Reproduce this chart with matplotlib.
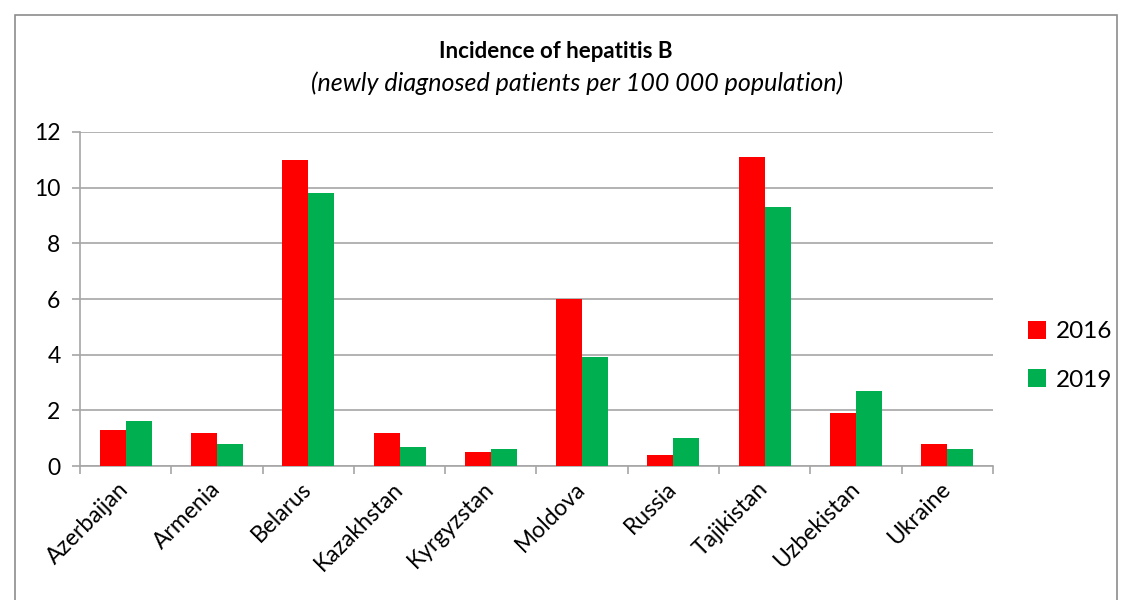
import numpy as np
import matplotlib
matplotlib.use("Agg")
from matplotlib import pyplot as plt
from matplotlib.patches import Rectangle

countries = ["Azerbaijan", "Armenia", "Belarus", "Kazakhstan", "Kyrgyzstan",
             "Moldova", "Russia", "Tajikistan", "Uzbekistan", "Ukraine"]
cases_2016 = [1.3, 1.2, 11.0, 1.2, 0.5, 6.0, 0.4, 11.1, 1.9, 0.8]
cases_2019 = [1.6, 0.8, 9.8, 0.7, 0.6, 3.9, 1.0, 9.3, 2.7, 0.6]
years = ["2016", "2019"]

plt.rcParams['font.family'] = ['Lato', 'DejaVu Sans']

fig = plt.figure(figsize=(11.24, 6.0), dpi=100)
ax = fig.add_axes([0.0712, 0.2233, 0.8122, 0.5567])

x = np.arange(len(countries))
w = 0.285
ax.bar(x - w / 2, cases_2016, w, color="#FF0000", label=years[0], zorder=3)
ax.bar(x + w / 2, cases_2019, w, color="#00B050", label=years[1], zorder=3)

ax.set_xlim(-0.5, len(countries) - 0.5)
ax.set_ylim(0, 12)
ax.set_yticks(range(0, 13, 2))
ax.yaxis.grid(True, color="#a6a6a6", linewidth=1.2, zorder=0)

# category ticks sit between the groups, labels on the group centres
ax.set_xticks(np.arange(-0.5, len(countries), 1.0))
ax.set_xticklabels([])
ax.set_xticks(x, minor=True)
ax.set_xticklabels(countries, minor=True, rotation=45, ha="right", va="center",
                   rotation_mode="anchor", fontsize=16.5)
ax.tick_params(axis="x", which="minor", length=0, pad=14)
ax.tick_params(axis="x", which="major", length=6, width=1.2, color="#a6a6a6")
ax.tick_params(axis="y", length=6, width=1.2, color="#a6a6a6", labelsize=16.5, pad=8)

for side in ["top", "right"]:
    ax.spines[side].set_visible(False)
for side in ["left", "bottom"]:
    ax.spines[side].set_color("#a6a6a6")
    ax.spines[side].set_linewidth(1.2)

fig.text(0.494, 0.915, "Incidence of hepatitis B", ha="center", va="center",
         fontsize=16, fontweight="bold")
fig.text(0.513, 0.862, "(newly diagnosed patients per 100 000 population)",
         ha="center", va="center", fontsize=18, style="italic")

ax.legend(loc="center left", bbox_to_anchor=(1.014, 0.33), frameon=False,
          fontsize=17.5, handlelength=0.75, handleheight=0.75, labelspacing=1.1,
          handletextpad=0.4)

# outer chart frame
fig.patches.append(Rectangle((15 / 1124, -0.05), 1102 / 1124, 1 - 15 / 600 + 0.05,
                             transform=fig.transFigure, fill=False,
                             edgecolor="#8c8c8c", linewidth=1.2))

fig.savefig("out.png", dpi=100)
